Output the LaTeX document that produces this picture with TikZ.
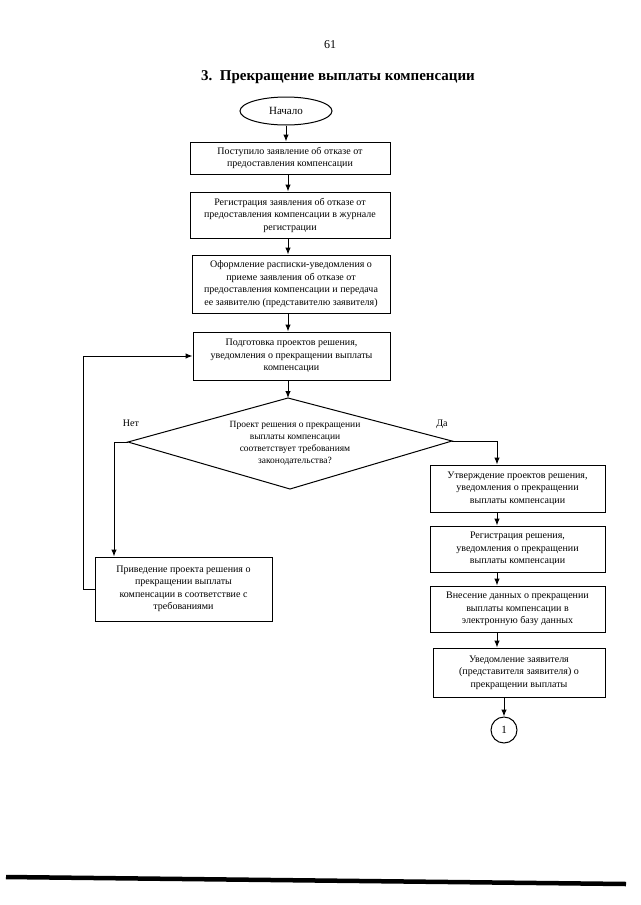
\documentclass[tikz,border=0pt]{standalone}
\usepackage{fontspec}
\setmainfont{Liberation Serif}
\usetikzlibrary{arrows.meta,shapes.geometric,calc}
\begin{document}
\begin{tikzpicture}[x=1pt,y=-1pt,
  box/.style={draw,line width=1pt,inner sep=2pt,align=center,font=\fontsize{10}{12.5}\selectfont},
  arr/.style={line width=1pt,-{Latex[length=7pt,width=5.5pt]}},
  ln/.style={line width=1pt},
  lbl/.style={font=\fontsize{10}{12}\selectfont}]
\useasboundingbox (0,0) rectangle (640,905);
% header
\node[font=\fontsize{12}{14}\selectfont] (pg) at (330,45) {61};
\node[font=\bfseries\fontsize{15}{18}\selectfont] (title) at (338,77) {3.\ \ Прекращение выплаты компенсации};
% axes
\coordinate (ax) at (288,0);
\coordinate (rx) at (497,0);
% start
\node[draw,ellipse,line width=1pt,minimum width=92pt,minimum height=28pt,inner sep=0pt,font=\fontsize{11}{13}\selectfont] (start) at (286,111) {Начало};
% left column
\node[box,minimum width=200pt,minimum height=32pt] (b1) at (290,158) {Поступило заявление об отказе от\\предоставления компенсации};
\node[box,minimum width=200pt,minimum height=46pt] (b2) at (290,215) {Регистрация заявления об отказе от\\предоставления компенсации в журнале\\регистрации};
\node[box,minimum width=198pt,minimum height=58pt] (b3) at (291,284) {Оформление расписки-уведомления о\\приеме заявления об отказе от\\предоставления компенсации и передача\\ее заявителю (представителю заявителя)};
\node[box,minimum width=197pt,minimum height=48pt] (b4) at (291.5,356) {Подготовка проектов решения,\\уведомления о прекращении выплаты\\компенсации};
% diamond
\coordinate (dt) at (288,398);
\coordinate (dl) at (128,442);
\coordinate (dr) at (452,441);
\coordinate (db) at (290,489);
\draw[ln] (dt) -- (dr) -- (db) -- (dl) -- cycle;
\node[align=center,font=\fontsize{9.5}{12}\selectfont] (dtext) at (295,443) {Проект решения о прекращении\\выплаты компенсации\\соответствует требованиям\\законодательства?};
\node[lbl] (no) at (131,423) {Нет};
\node[lbl] (yes) at (442,424) {Да};
% left branch box
\node[box,minimum width=177pt,minimum height=64pt] (lb) at (183.5,589) {Приведение проекта решения о\\прекращении выплаты\\компенсации в соответствие с\\требованиями};
% right column
\node[box,minimum width=175pt,minimum height=47pt] (b5) at (517.5,488.5) {Утверждение проектов решения,\\уведомления о прекращении\\выплаты компенсации};
\node[box,minimum width=175pt,minimum height=46pt] (b6) at (517.5,549) {Регистрация решения,\\уведомления о прекращении\\выплаты компенсации};
\node[box,minimum width=175pt,minimum height=46pt] (b7) at (517.5,609) {Внесение данных о прекращении\\выплаты компенсации в\\электронную базу данных};
\node[box,minimum width=172pt,minimum height=49pt] (b8) at (519,672.5) {Уведомление заявителя\\(представителя заявителя) о\\прекращении выплаты};
\node[draw,circle,line width=1pt,minimum size=26pt,inner sep=0pt,font=\fontsize{11}{13}\selectfont] (c1) at (504,730) {1};
% connectors left column
\draw[arr] (start.south) -- (start.south |- b1.north);
\draw[arr] (b1.south -| ax) -- (b2.north -| ax);
\draw[arr] (b2.south -| ax) -- (b3.north -| ax);
\draw[arr] (b3.south -| ax) -- (b4.north -| ax);
\draw[arr] (b4.south -| dt) -- (dt);
% no branch
\coordinate (nl) at (114,442);
\draw[arr] (dl) -- (nl) -- (nl |- lb.north);
\coordinate (lx) at (83,0);
\draw[arr] (lb.west) -- (lb.west -| lx) -- (lx |- b4.west) -- (b4.west);
% yes branch
\draw[arr] (dr) -- (dr -| rx) -- (rx |- b5.north);
\draw[arr] (b5.south -| rx) -- (b6.north -| rx);
\draw[arr] (b6.south -| rx) -- (b7.north -| rx);
\draw[arr] (b7.south -| rx) -- (b8.north -| rx);
\draw[arr] (b8.south -| c1) -- (c1.north);
% bottom rule
\coordinate (bl) at (6,877);
\coordinate (br) at (626,884);
\draw[line width=4.5pt] (bl) -- (br);
\end{tikzpicture}
\end{document}
